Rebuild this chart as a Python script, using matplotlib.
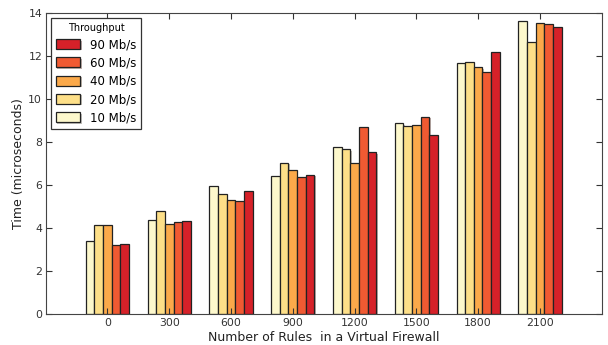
import numpy as np
import matplotlib
matplotlib.use("Agg")
import matplotlib.pyplot as plt
import matplotlib.patheffects as pe

rules = ["0", "300", "600", "900", "1200", "1500", "1800", "2100"]
rates = ["10 Mb/s", "20 Mb/s", "40 Mb/s", "60 Mb/s", "90 Mb/s"]
colors = ["#fdf8cc", "#fddf88", "#fba94a", "#f05a32", "#d62129"]

# processing time in microseconds, one list per throughput
t_10 = [3.39, 4.36, 5.97, 6.43, 7.75, 8.87, 11.65, 13.63]
t_20 = [4.13, 4.80, 5.58, 7.04, 7.66, 8.73, 11.73, 12.63]
t_40 = [4.13, 4.19, 5.29, 6.69, 7.01, 8.77, 11.47, 13.52]
t_60 = [3.20, 4.28, 5.25, 6.36, 8.70, 9.17, 11.23, 13.49]
t_90 = [3.26, 4.32, 5.71, 6.48, 7.53, 8.31, 12.19, 13.32]
series = [t_10, t_20, t_40, t_60, t_90]

fig = plt.figure(figsize=(6.08, 3.45), dpi=100)
ax = fig.add_axes([0.075, 0.089, 0.9147, 0.874])

x = np.arange(len(rules))
w = 0.14
shadow = [pe.SimplePatchShadow(offset=(1, -1), alpha=0.35), pe.Normal()]
handles = []
for k, (vals, lab, c) in enumerate(zip(series, rates, colors)):
    bars = ax.bar(x + (k - 2) * w, vals, w, color=c, edgecolor="#222222",
                  linewidth=0.9, label=lab)
    for b in bars:
        b.set_path_effects(shadow)
    handles.append(bars)

ax.set_xlim(-1, 8)
ax.set_ylim(0, 14)
ax.set_xticks(x)
ax.set_xticklabels(rules)
ax.set_yticks(range(0, 15, 2))
ax.tick_params(direction="in", top=True, right=True, labelsize=7.8,
               colors="#333333", length=4, pad=2.5)
for s in ax.spines.values():
    s.set_color("#444444")
ax.set_xlabel("Number of Rules  in a Virtual Firewall", fontsize=9, color="#222222", labelpad=2)
ax.set_ylabel("Time (microseconds)", fontsize=9, color="#222222", labelpad=2)

leg = ax.legend(handles[::-1], rates[::-1], title="Throughput", loc="upper left",
                fontsize=8.5, title_fontsize=7, handlelength=2.1, handleheight=0.9,
                borderaxespad=0.45, labelspacing=0.45, fancybox=False,
                edgecolor="#333333", framealpha=1)
leg.get_frame().set_linewidth(0.9)

fig.savefig("out.png", dpi=100)
